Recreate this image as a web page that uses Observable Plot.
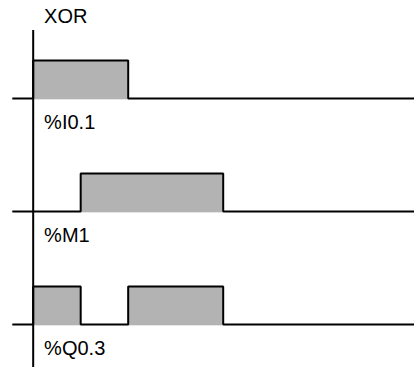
<!DOCTYPE html>
<html>
<head>
<meta charset="utf-8">
<script src="https://cdn.jsdelivr.net/npm/d3@7"></script>
<script src="https://cdn.jsdelivr.net/npm/@observablehq/plot@0.6"></script>
<style>
  html, body { margin: 0; padding: 0; background: #fff; }
  #chart { width: 414px; height: 367px; }
</style>
</head>
<body>
<div id="chart"></div>
<script>
// ---- data ----
const title = "XOR";
const signals = ["%I0.1", "%M1", "%Q0.3"];
const pulsesI01 = [[0, 2]];
const pulsesM1 = [[1, 4]];
const pulsesQ03 = [[0, 1], [2, 4]];
const tStart = -0.44;
const tEnd = 8.1;

// ---- build tables ----
const pulseLists = [pulsesI01, pulsesM1, pulsesQ03];
const laneGap = 113 / 38;           // lane spacing in level units
const base = i => -i * laneGap;

const pulses = [];
const wave = [];
pulseLists.forEach((list, lane) => {
  wave.push({lane, t: tStart, v: 0});
  list.forEach(([a, b]) => {
    pulses.push({lane, t1: a, t2: b});
    wave.push({lane, t: a, v: 0}, {lane, t: a, v: 1}, {lane, t: b, v: 1}, {lane, t: b, v: 0});
  });
  wave.push({lane, t: tEnd, v: 0});
});

const labelT = 0.23;

const chart = Plot.plot({
  width: 414,
  height: 367,
  marginTop: 30,
  marginBottom: 0,
  marginLeft: 0,
  marginRight: 0,
  style: {background: "#fff", fontFamily: "'Liberation Sans', Arial, sans-serif"},
  x: {domain: [-0.688, 8.027], axis: null},
  y: {domain: [-7.079, 1.7895], axis: null},
  marks: [
    Plot.rect(pulses, {
      x1: "t1", x2: "t2",
      y1: d => base(d.lane) - 0.035,
      y2: d => base(d.lane) + 1,
      fill: "#b3b3b3"
    }),
    Plot.line(wave, {
      x: "t", y: d => base(d.lane) + d.v, z: "lane",
      stroke: "#000", strokeWidth: 2, strokeLinejoin: "miter", strokeLinecap: "butt"
    }),
    Plot.ruleX([0], {stroke: "#000", strokeWidth: 2}),
    Plot.text(signals, {
      x: labelT, y: (d, i) => base(i) - 0.803, text: d => d,
      textAnchor: "start", lineAnchor: "bottom", fontSize: 20, fill: "#000"
    }),
    Plot.text([title], {
      x: labelT, y: 1.98, text: d => d,
      textAnchor: "start", lineAnchor: "bottom", fontSize: 20, fill: "#000"
    })
  ]
});
document.getElementById("chart").appendChild(chart);
</script>
</body>
</html>
